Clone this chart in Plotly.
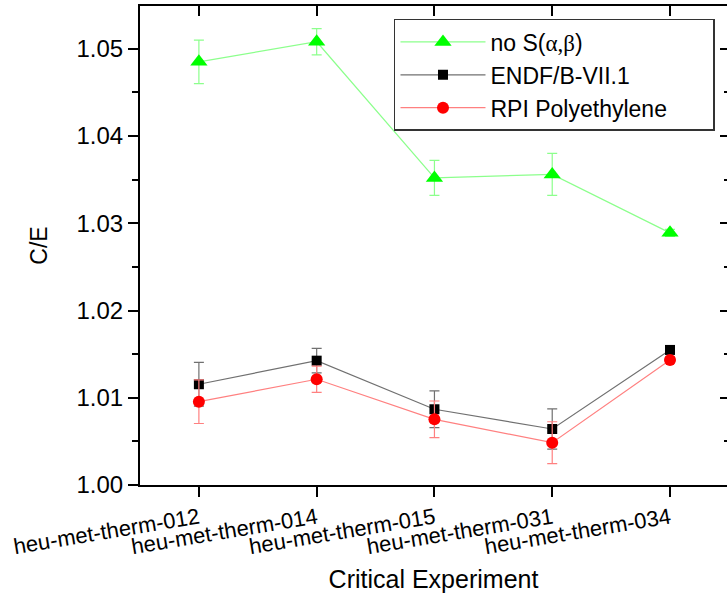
import plotly.graph_objects as go

experiments = ["heu-met-therm-012", "heu-met-therm-014", "heu-met-therm-015",
               "heu-met-therm-031", "heu-met-therm-034"]

no_sab = [1.0485, 1.0508, 1.0352, 1.0356, 1.0289]
no_sab_err = [0.0025, 0.0015, 0.0020, 0.0024, 0.0004]

endf = [1.01155, 1.01425, 1.00868, 1.00642, 1.01548]
endf_err = [0.0025, 0.0014, 0.0021, 0.0023, 0.0003]

rpi = [1.00955, 1.01212, 1.00753, 1.00485, 1.01433]
rpi_err = [0.0025, 0.0015, 0.0021, 0.0024, 0.0004]

FONT = "Arial, Liberation Sans, sans-serif"
xpos = list(range(len(experiments)))

fig = go.Figure()

fig.add_trace(go.Scatter(
    x=xpos, y=no_sab, mode="lines+markers",
    name="no S(<span style='font-family:Liberation Serif'>α,β</span>)",
    line=dict(color="#8cff8c", width=1.2),
    marker=dict(symbol="triangle-up", size=15, color="#00ff00"),
    error_y=dict(type="data", array=no_sab_err, color="#8cff8c", thickness=1.2, width=5),
))
fig.add_trace(go.Scatter(
    x=xpos, y=endf, mode="lines+markers", name="ENDF/B-VII.1",
    line=dict(color="#707070", width=1.2),
    marker=dict(symbol="square", size=10, color="#000000"),
    error_y=dict(type="data", array=endf_err, color="#707070", thickness=1.2, width=5),
))
fig.add_trace(go.Scatter(
    x=xpos, y=rpi, mode="lines+markers", name="RPI Polyethylene",
    line=dict(color="#ff8080", width=1.2),
    marker=dict(symbol="circle", size=12, color="#ff0000"),
    error_y=dict(type="data", array=rpi_err, color="#ff8080", thickness=1.2, width=5),
))
# helper trace so the mirrored top/right axes render
fig.add_trace(go.Scatter(x=[], y=[], xaxis="x2", yaxis="y2", showlegend=False, hoverinfo="skip"))

xr = [-0.5, 4.484]
yr = [1.0, 1.0549]

fig.update_layout(
    width=727, height=595,
    margin=dict(l=140, r=0, t=6, b=110, autoexpand=False),
    paper_bgcolor="white", plot_bgcolor="white",
    font=dict(family=FONT, color="black", size=22),
    showlegend=True,
    legend=dict(
        x=0.4327, y=0.973, xanchor="left", yanchor="top",
        orientation="h", entrywidth=218, entrywidthmode="pixels",
        bgcolor="white", bordercolor="#333333", borderwidth=1.5,
        font=dict(family=FONT, size=23, color="black"),
        itemwidth=85, tracegroupgap=0,
    ),
    xaxis=dict(
        range=xr, tickmode="array", tickvals=xpos, ticktext=experiments,
        tickangle=-9.5, tickfont=dict(size=22),
        showline=True, linecolor="black", linewidth=2,
        ticks="outside", ticklen=10, tickwidth=2, tickcolor="black",
        showgrid=False, zeroline=False,
        title=dict(text="Critical Experiment", font=dict(size=25), standoff=12),
    ),
    yaxis=dict(
        range=yr, dtick=0.01, tick0=1.0, tickformat=".2f",
        tickfont=dict(size=24),
        showline=True, linecolor="black", linewidth=2,
        ticks="outside", ticklen=10, tickwidth=2, tickcolor="black",
        minor=dict(dtick=0.005, ticks="outside", ticklen=6, tickwidth=2, tickcolor="black"),
        showgrid=False, zeroline=False,
        title=dict(text="C/E", font=dict(size=23), standoff=22),
    ),
    xaxis2=dict(
        overlaying="x", side="top", anchor="y2", range=xr, type="linear",
        tickmode="array", tickvals=xpos, showticklabels=False,
        showline=True, linecolor="black", linewidth=2,
        ticks="inside", ticklen=10, tickwidth=2, tickcolor="black",
        showgrid=False, zeroline=False,
    ),
    yaxis2=dict(
        overlaying="y", side="right", anchor="x2", range=yr, dtick=0.01, tick0=1.0,
        showticklabels=False, showline=False,
        ticks="inside", ticklen=7, tickwidth=2, tickcolor="black",
        minor=dict(dtick=0.005, ticks="inside", ticklen=3, tickwidth=2, tickcolor="black"),
        showgrid=False, zeroline=False,
    ),
)

fig.write_html("out.html")
